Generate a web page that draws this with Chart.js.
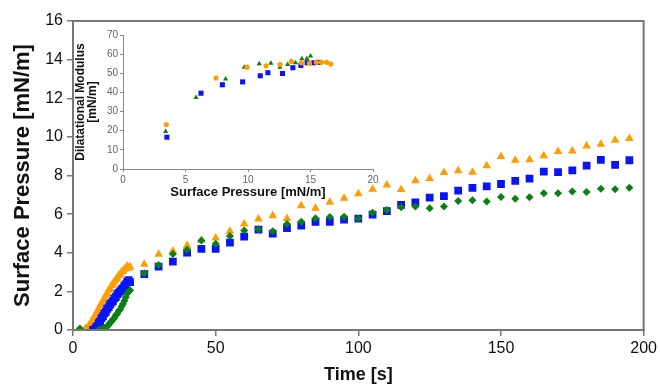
<!DOCTYPE html>
<html>
<head>
<meta charset="utf-8">
<script src="https://cdn.jsdelivr.net/npm/chart.js@4.4.1/dist/chart.umd.min.js"></script>
<style>
  html, body { margin: 0; padding: 0; background: #fff; }
  #wrap { position: relative; width: 660px; height: 388px; }
  #mainChart { position: absolute; left: 0; top: 0; }
  #insetChart { position: absolute; left: 70px; top: 22px; }
</style>
</head>
<body>
<div id="wrap">
  <canvas id="mainChart" width="660" height="388"></canvas>
  <canvas id="insetChart" width="320" height="185"></canvas>
</div>
<script>
// ---- main chart data: surface pressure vs time ----
// dense start (every 0.5 s)
const orangeEarlyT = [4.0, 4.5, 5.0, 5.5, 6.0, 6.5, 7.0, 7.5, 8.0, 8.5, 9.0, 9.5, 10.0, 10.5, 11.0, 11.5, 12.0, 12.5, 13.0, 13.5, 14.0, 14.5, 15.0, 15.5, 16.0, 16.5, 17.0, 17.5, 18.0, 18.5, 19.0, 19.5, 20.0];
const orangeEarlyV = [0.0, 0.08, 0.1, 0.22, 0.28, 0.45, 0.52, 0.7, 0.8, 0.98, 1.06, 1.25, 1.35, 1.52, 1.62, 1.8, 1.88, 2.06, 2.14, 2.3, 2.38, 2.5, 2.62, 2.68, 2.82, 2.86, 3.0, 3.04, 3.14, 3.18, 3.3, 3.2, 3.27];

const blueEarlyT = [7.0, 7.5, 8.0, 8.5, 9.0, 9.5, 10.0, 10.5, 11.0, 11.5, 12.0, 12.5, 13.0, 13.5, 14.0, 14.5, 15.0, 15.5, 16.0, 16.5, 17.0, 17.5, 18.0, 18.5, 19.0, 19.5, 20.0];
const blueEarlyV = [0.0, 0.02, 0.12, 0.2, 0.35, 0.44, 0.62, 0.7, 0.86, 0.94, 1.1, 1.18, 1.32, 1.42, 1.5, 1.64, 1.7, 1.84, 1.92, 2.0, 2.1, 2.16, 2.3, 2.36, 2.5, 2.58, 2.48];

const greenEarlyT = [2.4, 9.0, 9.5, 10.0, 10.5, 11.0, 11.5, 12.0, 12.5, 13.0, 13.5, 14.0, 14.5, 15.0, 15.5, 16.0, 16.5, 17.0, 17.5, 18.0, 18.5, 19.0, 19.5, 20.0];
const greenEarlyV = [0.08, 0.0, 0.02, 0.0, 0.06, 0.1, 0.12, 0.2, 0.26, 0.38, 0.44, 0.56, 0.62, 0.76, 0.84, 0.98, 1.06, 1.22, 1.34, 1.52, 1.7, 1.9, 1.98, 2.06];

// then every 5 s
const lateT = [25, 30, 35, 40, 45, 50, 55, 60, 65, 70, 75, 80, 85, 90, 95, 100, 105, 110, 115, 120, 125, 130, 135, 140, 145, 150, 155, 160, 165, 170, 175, 180, 185, 190, 195];
const orangeLateV = [3.4, 3.92, 4.09, 4.37, 4.65, 4.77, 5.11, 5.49, 5.75, 5.91, 5.77, 6.44, 6.3, 6.62, 6.82, 7.05, 7.29, 7.51, 7.27, 7.73, 7.84, 8.15, 8.24, 8.17, 8.51, 8.98, 8.79, 8.82, 9.02, 9.24, 9.27, 9.53, 9.62, 9.83, 9.91];
const blueLateV = [2.89, 3.28, 3.54, 4.01, 4.2, 4.2, 4.52, 4.84, 5.2, 4.99, 5.28, 5.41, 5.6, 5.6, 5.72, 5.77, 5.97, 6.16, 6.48, 6.61, 6.86, 6.93, 7.22, 7.36, 7.44, 7.56, 7.72, 7.84, 8.2, 8.17, 8.26, 8.51, 8.81, 8.55, 8.79];
const greenLateV = [2.94, 3.37, 3.94, 4.15, 4.63, 4.47, 4.87, 5.15, 5.22, 5.11, 5.49, 5.6, 5.79, 5.85, 5.87, 5.77, 6.07, 6.22, 6.36, 6.4, 6.3, 6.39, 6.68, 6.72, 6.65, 6.89, 6.8, 6.88, 7.08, 7.08, 7.17, 7.15, 7.32, 7.29, 7.37];

// ---- inset data: dilatational modulus vs surface pressure ----
const insetOrangeX = [3.46, 7.44, 9.92, 11.44, 12.56, 13.47, 14.27, 14.91, 15.47, 15.87, 16.29, 16.63];
const insetOrangeY = [23.2, 47.5, 53.2, 53.9, 54.6, 56.2, 55.5, 55.2, 55.7, 55.7, 55.7, 54.8];
const insetGreenX = [3.41, 5.84, 8.21, 9.7, 10.9, 11.83, 12.55, 13.17, 13.8, 14.31, 14.71, 15.0];
const insetGreenY = [19.6, 37.4, 47.0, 53.2, 55.0, 55.2, 53.2, 54.6, 55.5, 57.6, 57.6, 59.0];
const insetBlueX = [3.51, 6.24, 7.95, 9.57, 10.98, 11.59, 12.76, 13.59, 14.23, 14.73, 15.27, 15.67];
const insetBlueY = [16.6, 39.6, 44.0, 45.5, 48.7, 50.3, 49.9, 52.9, 54.1, 55.5, 55.5, 55.7];

const ORANGE = '#ff9c00';
const BLUE = '#0a14f5';
const GREEN = '#0b7f12';
const FONT = 'Arial, "Liberation Sans", sans-serif';

// helper: pair arrays into {x,y}
const pts = (xs, ys) => xs.map((x, i) => ({ x, y: ys[i] }));

// draws the grey frame round the plot area
const framePlugin = {
  id: 'frame',
  afterDraw(chart, args, opts) {
    const { ctx, chartArea: a } = chart;
    ctx.save();
    ctx.strokeStyle = opts.color;
    ctx.lineWidth = opts.width;
    ctx.strokeRect(a.left, a.top, a.right - a.left, a.bottom - a.top);
    ctx.restore();
  }
};

new Chart(document.getElementById('mainChart'), {
  type: 'scatter',
  data: {
    datasets: [
      { data: pts(greenEarlyT, greenEarlyV).concat(pts(lateT, greenLateV)), pointStyle: 'rectRot', pointRadius: 4, backgroundColor: GREEN, borderColor: GREEN, borderWidth: 0, order: 0 },
      { data: pts(blueEarlyT, blueEarlyV).concat(pts(lateT, blueLateV)), pointStyle: 'rect', pointRadius: 5.5, backgroundColor: BLUE, borderColor: BLUE, borderWidth: 0, order: 1 },
      { data: pts(orangeEarlyT, orangeEarlyV).concat(pts(lateT, orangeLateV)), pointStyle: 'triangle', pointRadius: 5, backgroundColor: ORANGE, borderColor: ORANGE, borderWidth: 0, order: 2 }
    ]
  },
  options: {
    responsive: false,
    animation: false,
    devicePixelRatio: 1,
    layout: { padding: { left: 0, right: 15, top: 21, bottom: 0 } },
    plugins: {
      legend: { display: false },
      tooltip: { enabled: false },
      frame: { color: '#777', width: 2 }
    },
    scales: {
      x: {
        type: 'linear', min: 0, max: 200,
        afterFit: s => { s.height = 58; },
        ticks: { stepSize: 50, padding: 3, color: '#111', font: { family: FONT, size: 16 } },
        grid: { drawOnChartArea: false, tickLength: 6, color: '#777', lineWidth: 1.5 },
        border: { color: '#777', width: 2 },
        title: { display: true, text: 'Time [s]', color: '#111', font: { family: FONT, size: 18, weight: 'bold' }, padding: { top: 0, bottom: 2 } }
      },
      y: {
        min: 0, max: 16,
        afterFit: s => { s.width = 73; },
        ticks: { stepSize: 2, padding: 4, color: '#111', font: { family: FONT, size: 16 } },
        grid: { drawOnChartArea: false, tickLength: 6, color: '#777', lineWidth: 1.5 },
        border: { color: '#777', width: 2 },
        title: { display: true, text: 'Surface Pressure [mN/m]', color: '#111', font: { family: FONT, size: 22, weight: 'bold' }, padding: { top: 10, bottom: 0 } }
      }
    }
  },
  plugins: [framePlugin]
});

new Chart(document.getElementById('insetChart'), {
  type: 'scatter',
  data: {
    datasets: [
      { data: pts(insetOrangeX, insetOrangeY), pointStyle: 'circle', pointRadius: 2.6, backgroundColor: ORANGE, borderWidth: 0 },
      { data: pts(insetGreenX, insetGreenY), pointStyle: 'triangle', pointRadius: 3, backgroundColor: GREEN, borderWidth: 0 },
      { data: pts(insetBlueX, insetBlueY), pointStyle: 'rect', pointRadius: 3.6, backgroundColor: BLUE, borderWidth: 0 }
    ]
  },
  options: {
    responsive: false,
    animation: false,
    devicePixelRatio: 1,
    layout: { padding: { left: 0, right: 17, top: 13, bottom: 0 } },
    plugins: { legend: { display: false }, tooltip: { enabled: false } },
    scales: {
      x: {
        type: 'linear', min: 0, max: 20,
        afterFit: s => { s.height = 38; },
        ticks: { stepSize: 5, padding: 2, color: '#666', font: { family: FONT, size: 10 } },
        grid: { drawOnChartArea: false, tickLength: 3, color: '#888' },
        border: { color: '#888', width: 1 },
        title: { display: true, text: 'Surface Pressure [mN/m]', color: '#111', font: { family: FONT, size: 13, weight: 'bold' }, padding: { top: 0, bottom: 7 } }
      },
      y: {
        min: 0, max: 70,
        afterFit: s => { s.width = 53; },
        ticks: { stepSize: 10, padding: 2, color: '#666', font: { family: FONT, size: 10 } },
        grid: { drawOnChartArea: false, tickLength: 3, color: '#888' },
        border: { color: '#888', width: 1 },
        title: { display: true, text: ['Dilatational Modulus', '[mN/m]'], color: '#111', font: { family: FONT, size: 12, weight: 'bold', lineHeight: 1.0 }, padding: { top: 5, bottom: 0 } }
      }
    }
  }
});
</script>
</body>
</html>
